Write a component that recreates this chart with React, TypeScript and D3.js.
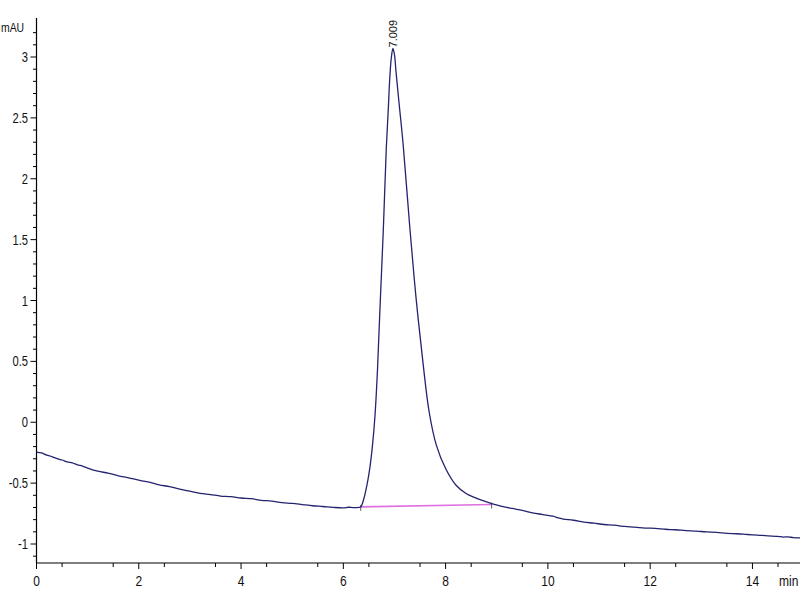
import React from "react";
import * as d3 from "d3";

// Chromatogram trace (time in min, signal in mAU)
const times = [
  0.0, 0.1, 0.2, 0.3, 0.4, 0.5, 0.6, 0.7, 0.8, 0.9, 1.0, 1.2, 1.4, 1.6, 1.8, 2.0, 2.2, 2.4, 2.6, 2.8,
  3.0, 3.2, 3.4, 3.6, 3.8, 4.0, 4.2, 4.4, 4.6, 4.8, 5.0, 5.2, 5.4, 5.6, 5.8, 6.0, 6.1, 6.2, 6.3,
  6.34, 6.4, 6.46, 6.52, 6.57, 6.62, 6.67, 6.72, 6.78, 6.84, 6.88, 6.91, 6.94, 6.97, 7.0, 7.03,
  7.09, 7.17, 7.3, 7.42, 7.56, 7.68, 7.82, 8.0, 8.2, 8.4, 8.55, 8.7, 8.9, 9.1, 9.3, 9.5, 9.7,
  9.9, 10.1, 10.2, 10.3, 10.5, 10.7, 10.9, 11.1, 11.3, 11.5, 11.7, 11.9, 12.1, 12.3, 12.5, 12.7,
  12.9, 13.1, 13.3, 13.5, 13.7, 13.9, 14.1, 14.3, 14.5, 14.6, 14.7, 14.8, 14.93,
];
const signal = [
  -0.245, -0.252, -0.27, -0.282, -0.298, -0.31, -0.326, -0.334, -0.35, -0.36, -0.376, -0.402, -0.418, -0.44, -0.456, -0.476, -0.492, -0.515, -0.528, -0.55,
  -0.566, -0.585, -0.594, -0.606, -0.611, -0.622, -0.628, -0.641, -0.648, -0.661, -0.666, -0.676, -0.686, -0.692, -0.699, -0.703, -0.698, -0.701, -0.699,
  -0.695, -0.63, -0.52, -0.37, -0.19, 0.06, 0.45, 0.97, 1.56, 2.25, 2.58, 2.84, 3.0, 3.07, 3.02, 2.88,
  2.62, 2.28, 1.6, 1.03, 0.48, 0.08, -0.19, -0.38, -0.515, -0.585, -0.615, -0.64, -0.668, -0.69, -0.708, -0.724, -0.744,
  -0.758, -0.772, -0.786, -0.795, -0.805, -0.82, -0.829, -0.84, -0.845, -0.856, -0.861, -0.869, -0.871, -0.879, -0.883, -0.89,
  -0.894, -0.901, -0.904, -0.913, -0.916, -0.922, -0.927, -0.933, -0.937, -0.943, -0.941, -0.948, -0.95,
];

// Integration baseline
const baseT = [6.34, 8.9];
const baseV = [-0.695, -0.675];

const peakTime = 6.97;
const peakValue = 3.07;
const peakLabel = "7.009";

const yMajor = [-1, -0.5, 0, 0.5, 1, 1.5, 2, 2.5, 3];
const yLabels = ["-1", "-0.5", "0", "0.5", "1", "1.5", "2", "2.5", "3"];
const xMajor = [0, 2, 4, 6, 8, 10, 12, 14];
const xLabels = ["0", "2", "4", "6", "8", "10", "12", "14"];

const FONT = "'Liberation Sans', Arial, sans-serif";
const SQ = 0.8; // horizontal squeeze for the condensed look

function NText(props: { x: number; y: number; size: number; anchor?: string; children: React.ReactNode }) {
  return (
    <text
      transform={`translate(${props.x},${props.y}) scale(${SQ},1)`}
      textAnchor={props.anchor || "start"}
      fontFamily={FONT}
      fontSize={props.size}
      fill="#111"
    >
      {props.children}
    </text>
  );
}

export default function App() {
  const W = 800, H = 600;
  const axisX = 36.5, axisY = 563;
  const x = d3.scaleLinear().domain([0, 14.93]).range([axisX, 800]);
  const y = d3.scaleLinear().domain([-1, 3]).range([544, 57]);

  const pts = times.map((t, i) => [t, signal[i]] as [number, number]);
  const line = d3.line<[number, number]>().x(d => x(d[0])).y(d => y(d[1])).curve(d3.curveCatmullRom.alpha(0.5));
  const base = baseT.map((t, i) => [t, baseV[i]] as [number, number]);
  const baseLine = d3.line<[number, number]>().x(d => x(d[0])).y(d => y(d[1]));

  const yMinor = d3.range(-11, 33).map(v => v / 10).filter(v => Math.abs(v * 2 - Math.round(v * 2)) > 1e-6);
  const xMinor = d3.range(1, 30, 2).map(v => v / 2).filter(v => x(v) < 800);

  return (
    <svg width={W} height={H} style={{ position: "fixed", left: 0, top: 0, background: "#fff" }}>
      <rect x={0} y={0} width={W} height={H} fill="#fff" />
      {/* axes */}
      <line x1={axisX} y1={18} x2={axisX} y2={axisY} stroke="#000" strokeWidth={1.2} />
      <line x1={axisX} y1={axisY} x2={800} y2={axisY} stroke="#000" strokeWidth={1.2} />
      {yMajor.map((v, i) => (
        <g key={"ym" + i}>
          <line x1={axisX - 6} x2={axisX} y1={y(v)} y2={y(v)} stroke="#000" strokeWidth={1} />
          <NText x={28} y={y(v) + 5} size={14} anchor="end">{yLabels[i]}</NText>
        </g>
      ))}
      {yMinor.map((v, i) => (
        <line key={"yn" + i} x1={axisX - 3.5} x2={axisX} y1={y(v)} y2={y(v)} stroke="#000" strokeWidth={1} />
      ))}
      {xMajor.map((v, i) => (
        <g key={"xm" + i}>
          <line x1={x(v)} x2={x(v)} y1={axisY} y2={axisY + 6} stroke="#000" strokeWidth={1} />
          <NText x={x(v)} y={586} size={15} anchor="middle">{xLabels[i]}</NText>
        </g>
      ))}
      {xMinor.map((v, i) => (
        <line key={"xn" + i} x1={x(v)} x2={x(v)} y1={axisY} y2={axisY + 4} stroke="#000" strokeWidth={1} />
      ))}
      <NText x={1} y={32} size={13}>mAU</NText>
      <NText x={779} y={586} size={15}>min</NText>

      {/* integration baseline */}
      <path d={baseLine(base) || ""} fill="none" stroke="#e070e0" strokeWidth={1.6} />
      {base.map((d, i) => (
        <line key={"bt" + i} x1={x(d[0])} x2={x(d[0])} y1={y(d[1]) - 2} y2={y(d[1]) + 4} stroke="#333" strokeWidth={0.8} />
      ))}

      {/* trace */}
      <path d={line(pts) || ""} fill="none" stroke="#23236f" strokeWidth={1.3} />

      {/* peak label */}
      <text
        transform={`translate(${x(peakTime) + 4},${y(peakValue) - 1}) rotate(-90)`}
        fontFamily={FONT}
        fontSize={11}
        fill="#111"
      >
        {peakLabel}
      </text>
    </svg>
  );
}
